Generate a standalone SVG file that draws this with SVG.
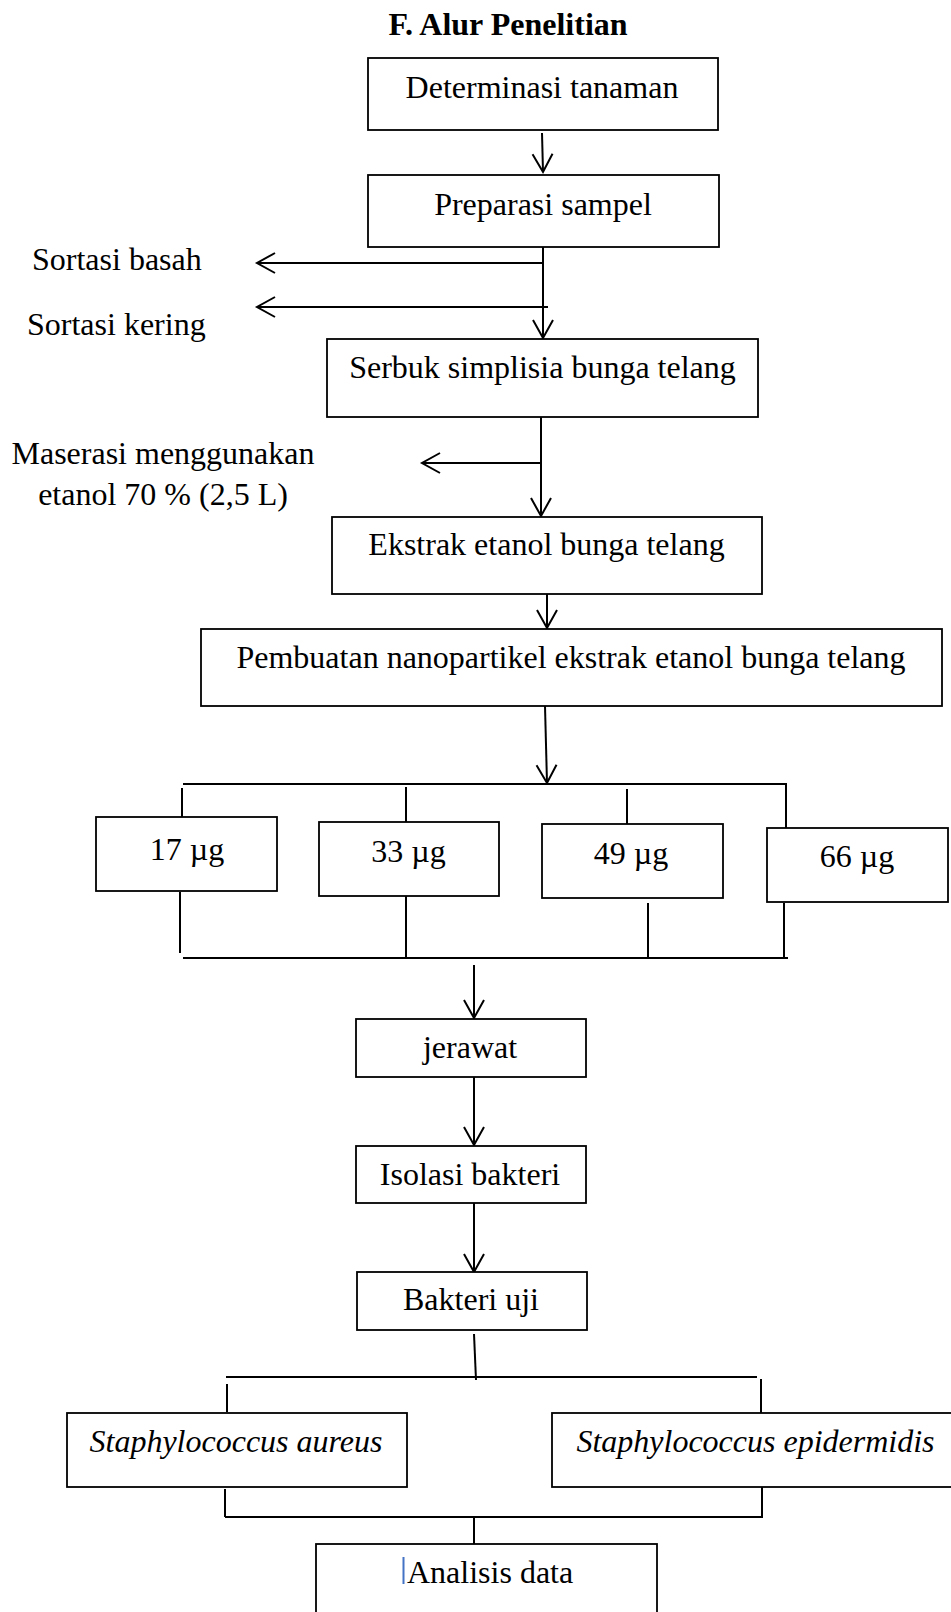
<svg xmlns="http://www.w3.org/2000/svg" width="951" height="1612" viewBox="0 0 951 1612">
<style>
text{font-family:"Liberation Serif","Times New Roman",serif;font-size:32px;fill:#000}
.t{font-weight:bold}
.i{font-style:italic}
.box{fill:#fff;stroke:#000;stroke-width:1.8}
.c{stroke:#000;stroke-width:2;fill:none}
.a{marker-end:url(#ah)}
</style>
<defs>
<marker id="ah" markerUnits="userSpaceOnUse" viewBox="-22 -12 26 24" refX="0" refY="0" markerWidth="26" markerHeight="24" orient="auto">
<path d="M-18,-10 L0,0 L-18,10" fill="none" stroke="#000" stroke-width="2"/>
</marker>
</defs>
<text class="t" x="508" y="35" text-anchor="middle">F. Alur Penelitian</text>
<g id="connectors">
<line class="c a" x1="542" y1="133" x2="543" y2="172"/>
<line class="c a" x1="543" y1="247" x2="543" y2="338"/>
<line class="c a" x1="543" y1="263" x2="257" y2="263"/>
<line class="c a" x1="548" y1="307" x2="257" y2="307"/>
<line class="c a" x1="541" y1="417" x2="541" y2="516"/>
<line class="c a" x1="541" y1="463" x2="422" y2="463"/>
<line class="c a" x1="547" y1="594" x2="547" y2="628"/>
<line class="c a" x1="545" y1="706" x2="547" y2="783"/>
<line class="c" x1="183" y1="784" x2="787" y2="784"/>
<line class="c" x1="786" y1="784" x2="786" y2="828"/>
<line class="c" x1="182" y1="788" x2="182" y2="820"/>
<line class="c" x1="406" y1="787" x2="406" y2="822"/>
<line class="c" x1="627" y1="789" x2="627" y2="824"/>
<line class="c" x1="180" y1="892" x2="180" y2="953"/>
<line class="c" x1="406" y1="896" x2="406" y2="958"/>
<line class="c" x1="648" y1="903" x2="648" y2="958"/>
<line class="c" x1="784" y1="903" x2="784" y2="958"/>
<line class="c" x1="183" y1="958" x2="788" y2="958"/>
<line class="c a" x1="474" y1="965" x2="474" y2="1018"/>
<line class="c a" x1="474" y1="1077" x2="474" y2="1145"/>
<line class="c a" x1="474" y1="1203" x2="474" y2="1272"/>
<line class="c" x1="474" y1="1334" x2="476" y2="1380"/>
<line class="c" x1="226" y1="1377" x2="757" y2="1377"/>
<line class="c" x1="227" y1="1384" x2="227" y2="1412"/>
<line class="c" x1="761" y1="1379" x2="761" y2="1413"/>
<line class="c" x1="225" y1="1489" x2="225" y2="1517"/>
<line class="c" x1="762" y1="1485" x2="762" y2="1517"/>
<line class="c" x1="225" y1="1517" x2="763" y2="1517"/>
<line class="c" x1="474" y1="1517" x2="474" y2="1544"/>
</g>
<g id="n-determinasi"><rect class="box" x="368" y="58" width="350" height="72"/><text x="542" y="98" text-anchor="middle">Determinasi tanaman</text></g>
<g id="n-preparasi"><rect class="box" x="368" y="175" width="351" height="72"/><text x="543" y="215" text-anchor="middle">Preparasi sampel</text></g>
<g id="l-basah"><text x="32" y="270">Sortasi basah</text></g>
<g id="l-kering"><text x="27" y="335">Sortasi kering</text></g>
<g id="n-serbuk"><rect class="box" x="327" y="339" width="431" height="78"/><text x="542.5" y="378" text-anchor="middle">Serbuk simplisia bunga telang</text></g>
<g id="l-maserasi"><text x="163" y="464" text-anchor="middle">Maserasi menggunakan</text><text x="163" y="505" text-anchor="middle">etanol 70 % (2,5 L)</text></g>
<g id="n-ekstrak"><rect class="box" x="332" y="517" width="430" height="77"/><text x="546.5" y="555" text-anchor="middle">Ekstrak etanol bunga telang</text></g>
<g id="n-pembuatan"><rect class="box" x="201" y="629" width="741" height="77"/><text x="571" y="668" text-anchor="middle">Pembuatan nanopartikel ekstrak etanol bunga telang</text></g>
<g id="n-17"><rect class="box" x="96" y="817" width="181" height="74"/><text x="187" y="860" text-anchor="middle">17 µg</text></g>
<g id="n-33"><rect class="box" x="319" y="822" width="180" height="74"/><text x="408.5" y="862" text-anchor="middle">33 µg</text></g>
<g id="n-49"><rect class="box" x="542" y="824" width="181" height="74"/><text x="631" y="864" text-anchor="middle">49 µg</text></g>
<g id="n-66"><rect class="box" x="767" y="828" width="181" height="74"/><text x="857" y="867" text-anchor="middle">66 µg</text></g>
<g id="n-jerawat"><rect class="box" x="356" y="1019" width="230" height="58"/><text x="470" y="1058" text-anchor="middle">jerawat</text></g>
<g id="n-isolasi"><rect class="box" x="356" y="1146" width="230" height="57"/><text x="470" y="1185" text-anchor="middle">Isolasi bakteri</text></g>
<g id="n-bakteri"><rect class="box" x="357" y="1272" width="230" height="58"/><text x="471" y="1310" text-anchor="middle">Bakteri uji</text></g>
<g id="n-aureus"><rect class="box" x="67" y="1413" width="340" height="74"/><text class="i" x="236" y="1452" text-anchor="middle">Staphylococcus aureus</text></g>
<g id="n-epidermidis"><rect class="box" x="552" y="1413" width="410" height="74"/><text class="i" x="755.5" y="1452" text-anchor="middle">Staphylococcus epidermidis</text></g>
<g id="n-analisis"><rect class="box" x="316" y="1544" width="341" height="80"/><rect x="402.5" y="1557" width="2" height="27" fill="#4472c4"/><text x="407" y="1583">Analisis data</text></g>
</svg>
